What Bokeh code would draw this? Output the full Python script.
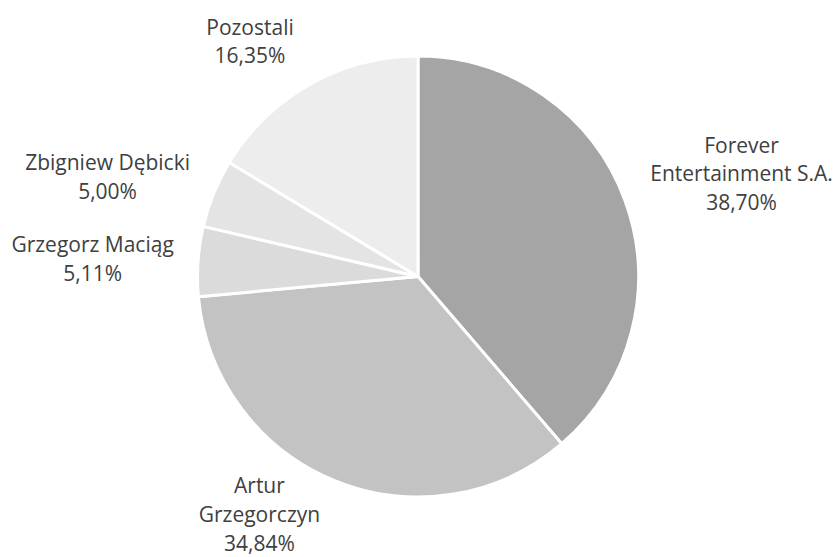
import math
from bokeh.plotting import figure
from bokeh.models import ColumnDataSource, Range1d
from bokeh.core.properties import value
from bokeh.embed import file_html
from bokeh.resources import INLINE

# ---- data ----
names = ["Forever\nEntertainment S.A.", "Artur\nGrzegorczyn", "Grzegorz Maciąg",
         "Zbigniew Dębicki", "Pozostali"]
shares = [38.70, 34.84, 5.11, 5.00, 16.35]
pct_labels = ["38,70%", "34,84%", "5,11%", "5,00%", "16,35%"]
colors = ["#a5a5a5", "#c3c3c3", "#dbdbdb", "#e4e4e4", "#ededed"]

# ---- layout (label placement relative to slice middle) ----
label_radius = [1.540, 1.295, 1.478, 1.479, 1.312]
label_nudge_deg = [-2.67, -11.7, 0.77, 4.29, 6.07]
R = 220.5

total = sum(shares)
starts, ends, lx, ly, texts = [], [], [], [], []
a = math.pi / 2
for i, s in enumerate(shares):
    sweep = 2 * math.pi * s / total
    starts.append(a)
    ends.append(a - sweep)
    mid = a - sweep / 2 + math.radians(label_nudge_deg[i])
    lx.append(R * label_radius[i] * math.cos(mid))
    ly.append(R * label_radius[i] * math.sin(mid))
    texts.append(names[i] + "\n" + pct_labels[i])
    a -= sweep

src = ColumnDataSource(dict(start=starts, end=ends, color=colors, x=[0] * 5, y=[0] * 5))
lsrc = ColumnDataSource(dict(x=lx, y=ly, text=texts))

W, H = 834, 557
cx, cy = 417.5, 276
p = figure(width=W, height=H, output_backend="svg", toolbar_location=None,
           x_range=Range1d(-cx, W - cx), y_range=Range1d(-(H - cy), cy),
           min_border=0)
p.axis.visible = False
p.grid.visible = False
p.outline_line_color = None
p.background_fill_color = "white"

p.wedge(x="x", y="y", radius=R, start_angle="start", end_angle="end",
        direction="clock", fill_color="color", line_color="white", line_width=3,
        source=src)

p.text(x="x", y="y", text="text", source=lsrc, text_align="center",
       text_baseline="middle", text_font=value("Open Sans"), text_font_size="21px",
       text_color="#404040", text_line_height=1.03)

open("out.html", "w").write(file_html(p, INLINE))
